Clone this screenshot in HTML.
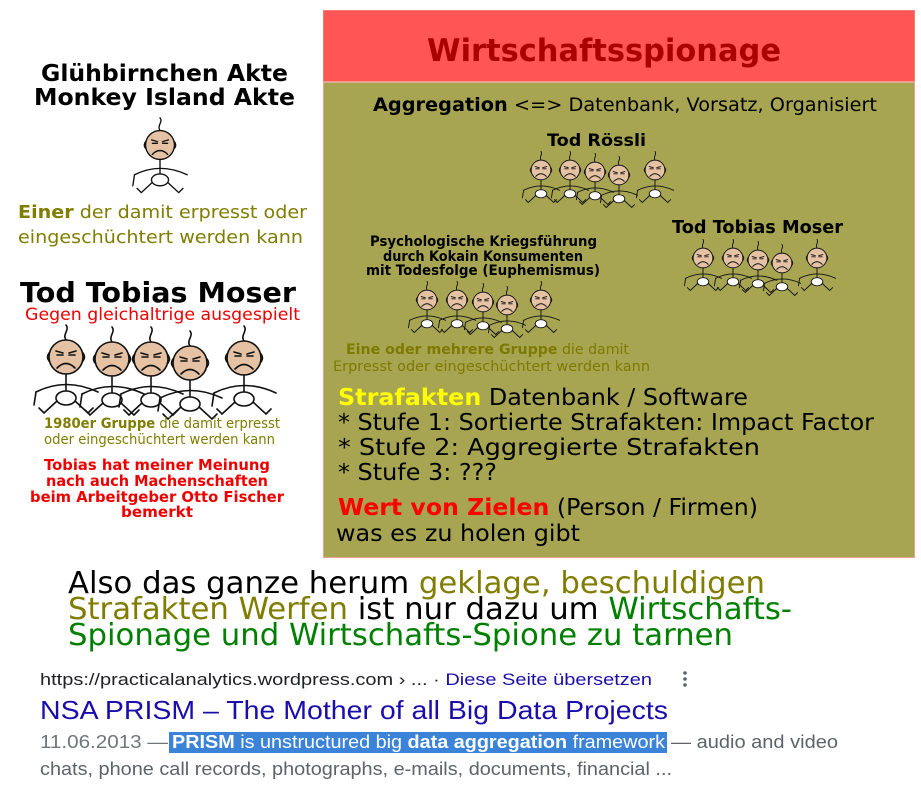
<!DOCTYPE html>
<html><head><meta charset="utf-8"><style>
html,body{margin:0;padding:0;background:#fff;width:921px;height:788px;overflow:hidden}
svg{display:block}
.d{font-family:"DejaVu Sans","Liberation Sans",sans-serif}
.l{font-family:"Liberation Sans",Arial,sans-serif}
</style></head><body>
<svg width="921" height="788" viewBox="0 0 921 788" xmlns="http://www.w3.org/2000/svg">
<defs>
<g id="f" stroke="#111" stroke-width="1.6" fill="none" stroke-linecap="round">
  <path d="M30 5 C26 -1 34 -5 30 -10"/>
  <circle cx="30" cy="22" r="17" fill="#e6c2a4"/>
  <path d="M13 18 q-3 4 0 8 M47 18 q3 4 0 8"/>
  <path d="M20 16 l7 2 M33 18 l7 -2"/>
  <path d="M21 20 h6 M33 20 h6"/>
  <path d="M21 33 q9 -9 18 0"/>
  <path d="M30 39 V58"/>
  <path d="M0 57 Q30 42 62 57"/>
  <ellipse cx="30" cy="63" rx="10" ry="7" fill="#fff"/>
  <path d="M21 66 L8 78 L3 73 M39 66 L52 78 L57 73"/>
  <path d="M0 57 L-2 70"/>
</g>
</defs>

<rect x="323.5" y="10.5" width="591" height="547" fill="#a8a552" stroke="#e8a090" stroke-width="1"/>
<rect x="323.5" y="10.5" width="591" height="71" fill="#ff5555"/>
<line x1="323" y1="82" x2="915" y2="82" stroke="#f0b0a0" stroke-width="1.5"/>
<text class="d" x="427" y="61" textLength="354" lengthAdjust="spacingAndGlyphs" font-size="31" font-weight="bold" fill="#aa0000">Wirtschaftsspionage</text>

<text class="d" x="373" y="111" textLength="504" lengthAdjust="spacingAndGlyphs" font-size="19" fill="#000"><tspan font-weight="bold">Aggregation</tspan> &lt;=&gt; Datenbank, Vorsatz, Organisiert</text>
<text class="d" x="547" y="146" textLength="99" lengthAdjust="spacingAndGlyphs" font-size="17" font-weight="bold">Tod Rössli</text>
<text class="d" x="672" y="233" textLength="171" lengthAdjust="spacingAndGlyphs" font-size="18" font-weight="bold">Tod Tobias Moser</text>
<g class="d" font-size="14" font-weight="bold">
<text x="370" y="246" textLength="227" lengthAdjust="spacingAndGlyphs">Psychologische Kriegsführung</text>
<text x="383" y="261" textLength="200" lengthAdjust="spacingAndGlyphs">durch Kokain Konsumenten</text>
<text x="366" y="275" textLength="234" lengthAdjust="spacingAndGlyphs">mit Todesfolge (Euphemismus)</text>
</g>
<text class="d" x="346" y="354" textLength="283" lengthAdjust="spacingAndGlyphs" font-size="14" fill="#7d7a00"><tspan font-weight="bold">Eine oder mehrere Gruppe</tspan> die damit</text>
<text class="d" x="333" y="371" textLength="317" lengthAdjust="spacingAndGlyphs" font-size="14" fill="#7d7a00">Erpresst  oder  eingeschüchtert werden kann</text>

<g class="d" font-size="23.5">
<text x="338" y="405" textLength="410" lengthAdjust="spacingAndGlyphs"><tspan font-weight="bold" fill="#ffff00">Strafakten</tspan> Datenbank / Software</text>
<text x="338" y="430" textLength="536" lengthAdjust="spacingAndGlyphs">* Stufe 1: Sortierte Strafakten: Impact Factor</text>
<text x="338" y="455" textLength="422" lengthAdjust="spacingAndGlyphs">* Stufe 2: Aggregierte Strafakten</text>
<text x="338" y="480" textLength="159" lengthAdjust="spacingAndGlyphs">* Stufe 3: ???</text>
<text x="338" y="515" textLength="420" lengthAdjust="spacingAndGlyphs"><tspan font-weight="bold" fill="#ff0000">Wert von Zielen</tspan> (Person / Firmen)</text>
<text x="336" y="541" textLength="244" lengthAdjust="spacingAndGlyphs">was es zu holen gibt</text>
</g>

<g transform="translate(541,170) scale(0.58) translate(-30,-22)"><use href="#f"/></g>
<g transform="translate(570,170) scale(0.58) translate(-30,-22)"><use href="#f"/></g>
<g transform="translate(595,172) scale(0.58) translate(-30,-22)"><use href="#f"/></g>
<g transform="translate(619,175) scale(0.58) translate(-30,-22)"><use href="#f"/></g>
<g transform="translate(655,170) scale(0.58) translate(-30,-22)"><use href="#f"/></g>

<g transform="translate(703,258) scale(0.58) translate(-30,-22)"><use href="#f"/></g>
<g transform="translate(733,258) scale(0.58) translate(-30,-22)"><use href="#f"/></g>
<g transform="translate(758,260) scale(0.58) translate(-30,-22)"><use href="#f"/></g>
<g transform="translate(782,263) scale(0.58) translate(-30,-22)"><use href="#f"/></g>
<g transform="translate(817,258) scale(0.58) translate(-30,-22)"><use href="#f"/></g>

<g transform="translate(427,300) scale(0.58) translate(-30,-22)"><use href="#f"/></g>
<g transform="translate(457,300) scale(0.58) translate(-30,-22)"><use href="#f"/></g>
<g transform="translate(483,302) scale(0.58) translate(-30,-22)"><use href="#f"/></g>
<g transform="translate(507,305) scale(0.58) translate(-30,-22)"><use href="#f"/></g>
<g transform="translate(541,300) scale(0.58) translate(-30,-22)"><use href="#f"/></g>

<g class="d" font-size="23.5" font-weight="bold">
<text x="41" y="81" textLength="247" lengthAdjust="spacingAndGlyphs">Glühbirnchen Akte</text>
<text x="34" y="105" textLength="261" lengthAdjust="spacingAndGlyphs">Monkey Island Akte</text>
</g>
<g transform="translate(160,145) scale(0.85) translate(-30,-22)"><use href="#f"/></g>
<text class="d" x="18" y="218" textLength="289" lengthAdjust="spacingAndGlyphs" font-size="18" fill="#807d00"><tspan font-weight="bold">Einer</tspan> der damit erpresst oder</text>
<text class="d" x="18" y="243" textLength="285" lengthAdjust="spacingAndGlyphs" font-size="18" fill="#807d00">eingeschüchtert werden kann</text>

<text class="d" x="20" y="302" textLength="276" lengthAdjust="spacingAndGlyphs" font-size="28" font-weight="bold">Tod Tobias Moser</text>
<text class="d" x="25" y="320" textLength="275" lengthAdjust="spacingAndGlyphs" font-size="17" fill="#ee0000">Gegen gleichaltrige ausgespielt</text>

<g transform="translate(66,357) translate(-30,-22)"><use href="#f"/></g>
<g transform="translate(112,359) translate(-30,-22)"><use href="#f"/></g>
<g transform="translate(151,359) translate(-30,-22)"><use href="#f"/></g>
<g transform="translate(190,363) translate(-30,-22)"><use href="#f"/></g>
<g transform="translate(244,358) translate(-30,-22)"><use href="#f"/></g>

<text class="d" x="44" y="428" textLength="236" lengthAdjust="spacingAndGlyphs" font-size="14" fill="#807d00"><tspan font-weight="bold">1980er Gruppe</tspan> die damit erpresst</text>
<text class="d" x="44" y="444" textLength="231" lengthAdjust="spacingAndGlyphs" font-size="14" fill="#807d00">oder eingeschüchtert werden kann</text>
<g class="d" font-size="15" font-weight="bold" fill="#ee0000">
<text x="44" y="470" textLength="226" lengthAdjust="spacingAndGlyphs">Tobias hat meiner Meinung</text>
<text x="46" y="486" textLength="222" lengthAdjust="spacingAndGlyphs">nach auch Machenschaften</text>
<text x="30" y="502" textLength="254" lengthAdjust="spacingAndGlyphs">beim Arbeitgeber Otto Fischer</text>
<text x="121" y="517" textLength="72" lengthAdjust="spacingAndGlyphs">bemerkt</text>
</g>

<g class="d" font-size="30.5">
<text x="68" y="593" textLength="697" lengthAdjust="spacingAndGlyphs">Also das ganze herum <tspan fill="#807d00">geklage, beschuldigen</tspan></text>
<text x="68" y="619" textLength="724" lengthAdjust="spacingAndGlyphs"><tspan fill="#807d00">Strafakten Werfen</tspan> ist nur dazu um <tspan fill="#008000">Wirtschafts-</tspan></text>
<text x="68" y="645" textLength="665" lengthAdjust="spacingAndGlyphs" fill="#008000">Spionage und Wirtschafts-Spione zu tarnen</text>
</g>

<text class="l" x="40" y="685" textLength="612" lengthAdjust="spacingAndGlyphs" font-size="17" fill="#202124">https://practicalanalytics.wordpress.com › ...  · <tspan fill="#1a0dab">Diese Seite übersetzen</tspan></text>
<circle cx="685" cy="673" r="1.8" fill="#5f6368"/><circle cx="685" cy="679" r="1.8" fill="#5f6368"/><circle cx="685" cy="685" r="1.8" fill="#5f6368"/>
<text class="l" x="40" y="719" textLength="628" lengthAdjust="spacingAndGlyphs" font-size="26" fill="#1a0dab">NSA PRISM – The Mother of all Big Data Projects</text>
<rect x="169" y="732" width="498" height="21" fill="#3b82d9"/>
<text class="l" x="40" y="748" textLength="128" lengthAdjust="spacingAndGlyphs" font-size="18" fill="#70757a">11.06.2013 —</text>
<text class="l" x="172" y="748" textLength="493" lengthAdjust="spacingAndGlyphs" font-size="18" fill="#fff"><tspan font-weight="bold">PRISM</tspan> is unstructured big <tspan font-weight="bold">data aggregation</tspan> framework</text>
<text class="l" x="671" y="748" textLength="167" lengthAdjust="spacingAndGlyphs" font-size="18" fill="#5f6368">— audio and video</text>
<text class="l" x="40" y="775" textLength="632" lengthAdjust="spacingAndGlyphs" font-size="18" fill="#5f6368">chats, phone call records, photographs, e-mails, documents, financial ...</text>
</svg>
</body></html>
